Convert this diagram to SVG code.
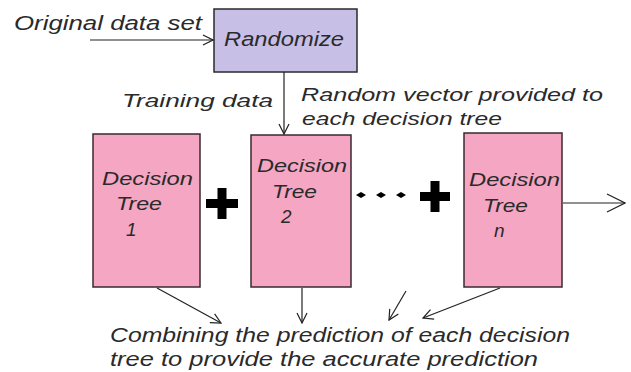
<svg xmlns="http://www.w3.org/2000/svg" width="631" height="372" viewBox="0 0 631 372">
<defs>
<marker id="ah" viewBox="0 0 12 12" refX="11" refY="6" markerWidth="12" markerHeight="12" markerUnits="userSpaceOnUse" orient="auto">
<path d="M1,1 L11,6 L1,11" fill="none" stroke="#222" stroke-width="1.2"/>
</marker>
<marker id="ahb" viewBox="0 0 20 20" refX="19" refY="10" markerWidth="20" markerHeight="20" markerUnits="userSpaceOnUse" orient="auto">
<path d="M1,1 L19,10 L1,19" fill="none" stroke="#222" stroke-width="1.2"/>
</marker>
</defs>
<style>
text{font-family:"Liberation Sans","Open Sans",sans-serif;font-style:italic;fill:#2a2a2a;font-size:19px}
.box{fill:#f4a6c3;stroke:#3a2a30;stroke-width:1.5}
.rnd{fill:#c8bfe6;stroke:#2a2a2a;stroke-width:1.5}
.c{stroke:#222;stroke-width:1.2;fill:none}
.big{font-size:20px}
</style>
<rect width="631" height="372" fill="#fff"/>
<text x="14" y="30" class="big" textLength="188" lengthAdjust="spacingAndGlyphs">Original data set</text>
<text x="122" y="107" textLength="151" lengthAdjust="spacingAndGlyphs">Training data</text>
<text x="301" y="101" textLength="302" lengthAdjust="spacingAndGlyphs">Random vector provided to</text>
<text x="302" y="125" textLength="200" lengthAdjust="spacingAndGlyphs">each decision tree</text>
<g id="randomize"><rect class="rnd" x="214" y="9" width="143" height="63"/><text x="224" y="46" class="big" textLength="120" lengthAdjust="spacingAndGlyphs">Randomize</text></g>
<g id="tree1"><rect class="box" x="93" y="134" width="107" height="153"/><text x="102" y="185" textLength="91" lengthAdjust="spacingAndGlyphs">Decision</text><text x="116" y="210" textLength="46" lengthAdjust="spacingAndGlyphs">Tree</text><text x="126" y="236">1</text></g>
<g id="tree2"><rect class="box" x="251" y="135" width="100" height="152"/><text x="257" y="172" textLength="90" lengthAdjust="spacingAndGlyphs">Decision</text><text x="272" y="198" textLength="45" lengthAdjust="spacingAndGlyphs">Tree</text><text x="281" y="223">2</text></g>
<g id="treen"><rect class="box" x="464" y="133" width="98" height="154"/><text x="469" y="186" textLength="91" lengthAdjust="spacingAndGlyphs">Decision</text><text x="483" y="212" textLength="45" lengthAdjust="spacingAndGlyphs">Tree</text><text x="494" y="237">n</text></g>
<g id="ops" fill="#000">
<rect x="206" y="199" width="32" height="9"/><rect x="217.5" y="188" width="9" height="31"/>
<rect x="420" y="192" width="30" height="9"/><rect x="430.5" y="181" width="9" height="31"/>
<path d="M356,195 l5,-3 l5,3 l-5,3z M376,195 l5,-3 l5,3 l-5,3z M396,195 l5,-3 l5,3 l-5,3z"/>
</g>
<g id="connectors">
<line class="c" x1="90" y1="40" x2="213" y2="40" marker-end="url(#ah)"/>
<line class="c" x1="284" y1="72" x2="284" y2="134" marker-end="url(#ah)"/>
<line class="c" x1="563" y1="203" x2="625" y2="203" marker-end="url(#ahb)"/>
<line class="c" x1="157" y1="288" x2="221" y2="323" marker-end="url(#ah)"/>
<line class="c" x1="302" y1="288" x2="302" y2="323" marker-end="url(#ah)"/>
<line class="c" x1="406" y1="291" x2="389" y2="320" marker-end="url(#ah)"/>
<line class="c" x1="500" y1="288" x2="423" y2="318" marker-end="url(#ah)"/>
</g>
<text x="110" y="342" class="big" textLength="460" lengthAdjust="spacingAndGlyphs">Combining the prediction of each decision</text>
<text x="110" y="366" class="big" textLength="428" lengthAdjust="spacingAndGlyphs">tree to provide the accurate prediction</text>
</svg>
